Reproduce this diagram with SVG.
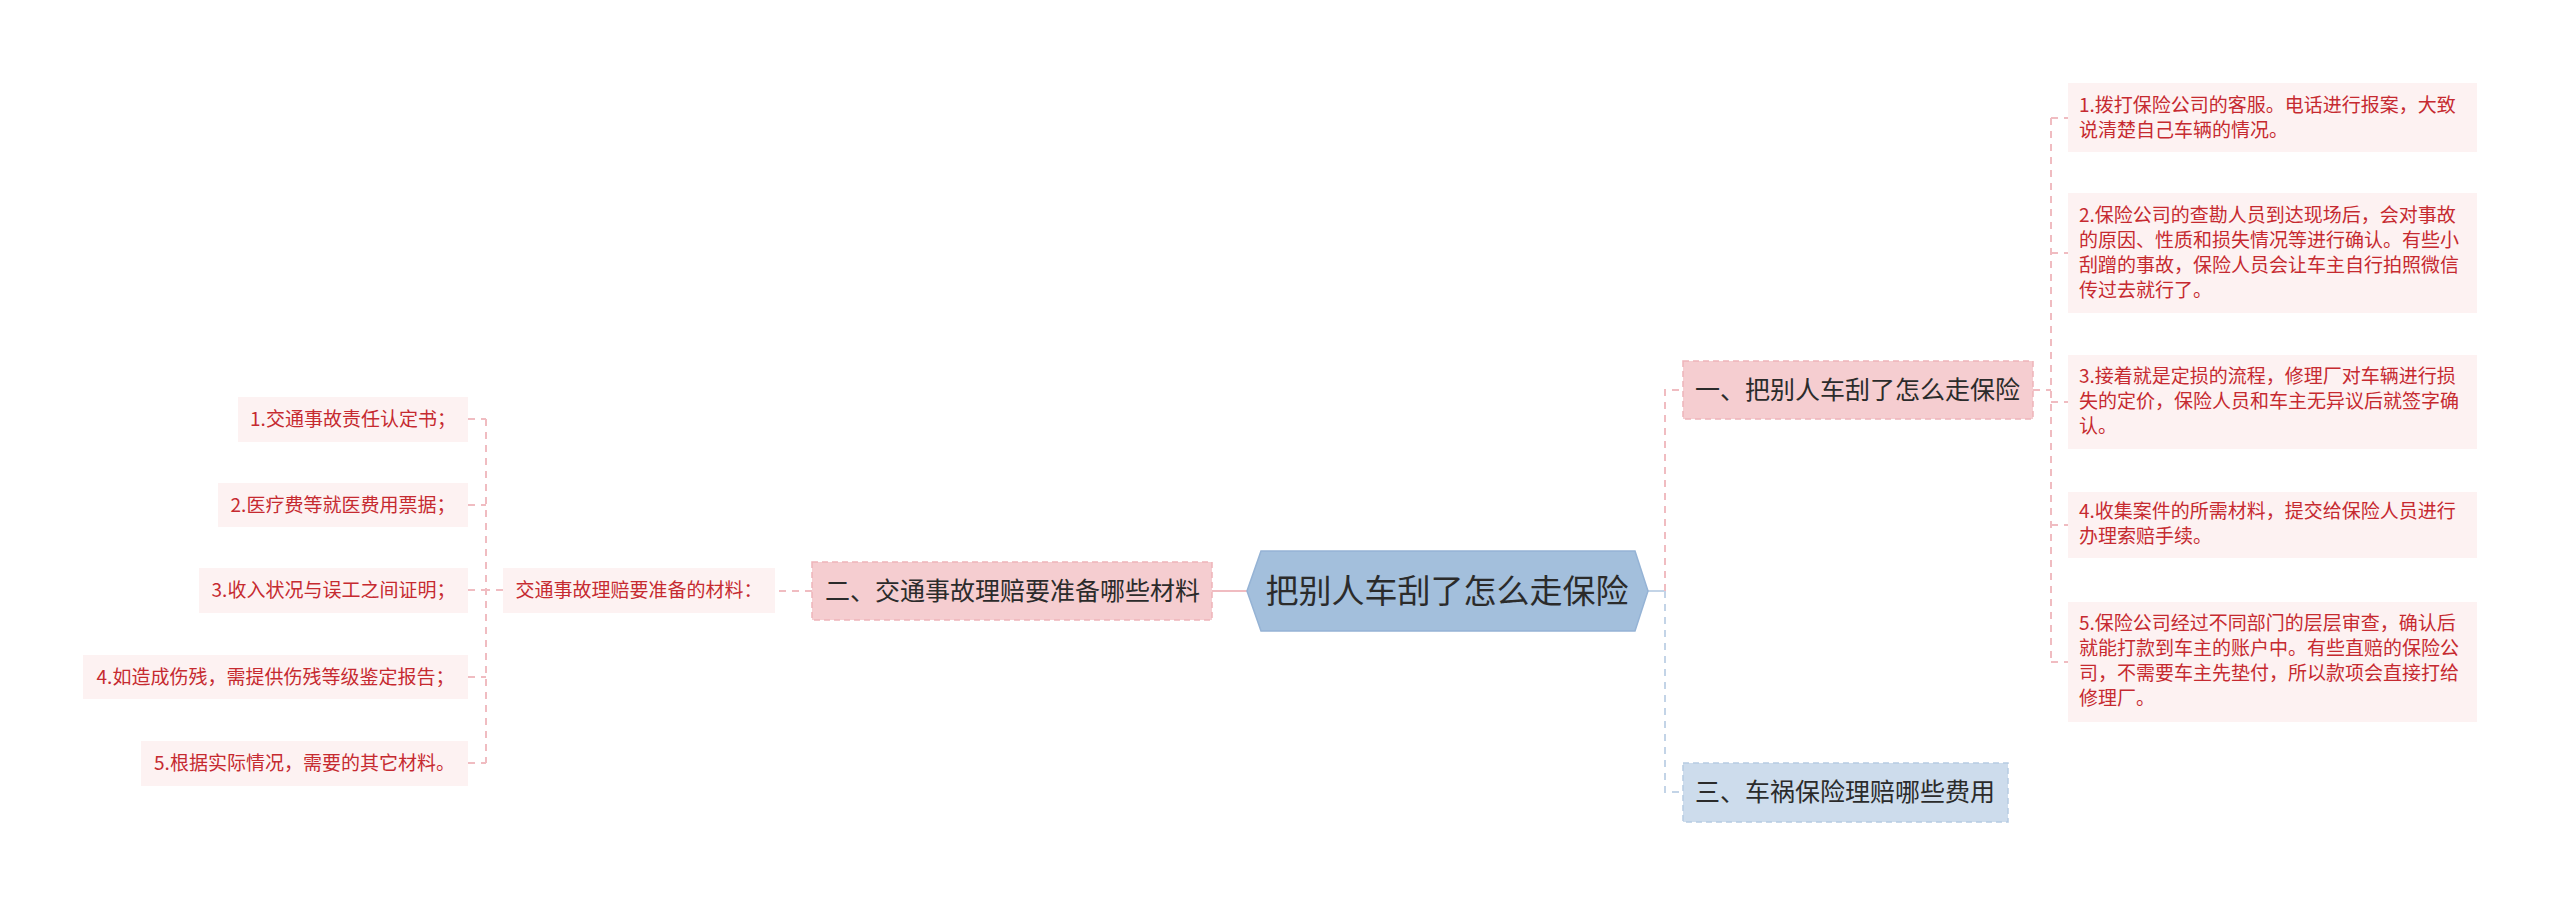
<svg xmlns="http://www.w3.org/2000/svg" width="2560" height="905" viewBox="0 0 2560 905">
<style>
text{font-family:"Noto Sans CJK SC","Noto Sans",sans-serif}
.root{fill:#a3bfdc;stroke:#95b3d5;stroke-width:1.5}
.rootT{font-size:33px;fill:#2b2b2b;text-anchor:middle}
.pk{fill:#f5cdd0;stroke:#eeb4b9;stroke-width:1.5;stroke-dasharray:6 4}
.bl{fill:#cddcec;stroke:#b6cbe2;stroke-width:1.5;stroke-dasharray:6 4}
.mT{font-size:25px;fill:#2b2b2b}
.leaf{fill:#fdf2f2}
.lT{font-size:19px;fill:#c62a30}
.cp{fill:none;stroke:#f0bcc1;stroke-width:2;stroke-dasharray:7 6}
.cb{fill:none;stroke:#c3d4e7;stroke-width:2;stroke-dasharray:7 6}
</style>
<rect width="2560" height="905" fill="#ffffff"/>
<g id="connectors">
<line x1="1212" y1="591" x2="1247" y2="591" stroke="#f0bcc1" stroke-width="2"/>
<path class="cp" d="M812 591 H775"/>
<path class="cp" d="M503 590 H486 M486 419 V763 M468 419 H486 M468 505 H486 M468 590 H486 M468 677 H486 M468 763 H486"/>
<line x1="1648" y1="591" x2="1665" y2="591" stroke="#c3d4e7" stroke-width="2"/>
<path class="cp" d="M1665 591 V390 H1683"/>
<path class="cb" d="M1665 591 V792 H1683"/>
<path class="cp" d="M2033 390 H2051 M2051 118 V662 M2051 118 H2068 M2051 253 H2068 M2051 402 H2068 M2051 525 H2068 M2051 662 H2068"/>
</g>
<g id="root">
<polygon class="root" points="1247,591 1261,551 1635,551 1648,591 1635,631 1261,631"/>
<text class="rootT" x="1447" y="603">把别人车刮了怎么走保险</text>
</g>
<g id="n2">
<rect class="pk" x="812" y="562" width="400" height="58"/>
<text class="mT" x="825" y="600">二、交通事故理赔要准备哪些材料</text>
</g>
<g id="n2a">
<rect class="leaf" x="503" y="568" width="272" height="45"/>
<text class="lT" x="639" y="597" text-anchor="middle">交通事故理赔要准备的材料：</text>
</g>
<g id="l1"><rect class="leaf" x="238" y="397" width="230" height="45"/><text class="lT" x="353" y="426" text-anchor="middle">1.交通事故责任认定书；</text></g>
<g id="l2"><rect class="leaf" x="218" y="483" width="250" height="44"/><text class="lT" x="343" y="512" text-anchor="middle">2.医疗费等就医费用票据；</text></g>
<g id="l3"><rect class="leaf" x="199" y="568" width="269" height="45"/><text class="lT" x="333.5" y="597" text-anchor="middle">3.收入状况与误工之间证明；</text></g>
<g id="l4"><rect class="leaf" x="83" y="655" width="385" height="44"/><text class="lT" x="275.5" y="684" text-anchor="middle">4.如造成伤残，需提供伤残等级鉴定报告；</text></g>
<g id="l5"><rect class="leaf" x="141" y="741" width="327" height="45"/><text class="lT" x="304.5" y="770" text-anchor="middle">5.根据实际情况，需要的其它材料。</text></g>
<g id="n1">
<rect class="pk" x="1683" y="361" width="350" height="58"/>
<text class="mT" x="1695" y="399">一、把别人车刮了怎么走保险</text>
</g>
<g id="n3">
<rect class="bl" x="1683" y="763" width="325" height="59"/>
<text class="mT" x="1695" y="801">三、车祸保险理赔哪些费用</text>
</g>
<g id="r1"><rect class="leaf" x="2068" y="83" width="409" height="69"/>
<text class="lT" x="2079"><tspan x="2079" y="112">1.拨打保险公司的客服。电话进行报案，大致</tspan><tspan x="2079" y="137">说清楚自己车辆的情况。</tspan></text></g>
<g id="r2"><rect class="leaf" x="2068" y="193" width="409" height="120"/>
<text class="lT" x="2079"><tspan x="2079" y="222">2.保险公司的查勘人员到达现场后，会对事故</tspan><tspan x="2079" y="247">的原因、性质和损失情况等进行确认。有些小</tspan><tspan x="2079" y="272">刮蹭的事故，保险人员会让车主自行拍照微信</tspan><tspan x="2079" y="297">传过去就行了。</tspan></text></g>
<g id="r3"><rect class="leaf" x="2068" y="355" width="409" height="94"/>
<text class="lT" x="2079"><tspan x="2079" y="383">3.接着就是定损的流程，修理厂对车辆进行损</tspan><tspan x="2079" y="408">失的定价，保险人员和车主无异议后就签字确</tspan><tspan x="2079" y="433">认。</tspan></text></g>
<g id="r4"><rect class="leaf" x="2068" y="492" width="409" height="66"/>
<text class="lT" x="2079"><tspan x="2079" y="518">4.收集案件的所需材料，提交给保险人员进行</tspan><tspan x="2079" y="543">办理索赔手续。</tspan></text></g>
<g id="r5"><rect class="leaf" x="2068" y="602" width="409" height="120"/>
<text class="lT" x="2079"><tspan x="2079" y="630">5.保险公司经过不同部门的层层审查，确认后</tspan><tspan x="2079" y="655">就能打款到车主的账户中。有些直赔的保险公</tspan><tspan x="2079" y="680">司，不需要车主先垫付，所以款项会直接打给</tspan><tspan x="2079" y="705">修理厂。</tspan></text></g>
</svg>
